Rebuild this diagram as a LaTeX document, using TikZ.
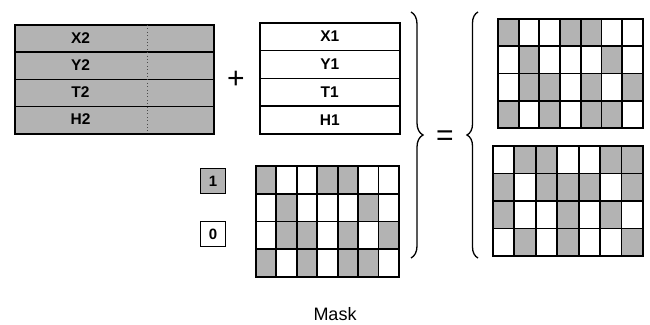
\documentclass[tikz,border=0pt]{standalone}
\usepackage{fontspec}
\setmainfont{Liberation Sans}
\usetikzlibrary{decorations.pathreplacing}
\definecolor{cell1}{RGB}{179,179,179}
\definecolor{cell0}{RGB}{255,255,255}
\newcommand\maskgrid[6]{%
  \foreach \rw [count=\r] in {#6} {
    \foreach \v [count=\c] in \rw {
      \node[gridcell, fill=cell\v, minimum width=#4pt, minimum height=#5pt]
        (#1-\r-\c) at ({#2+(\c-1)*#4},{#3+(\r-1)*#5}) {};
    }
  }%
}
\begin{document}
\begin{tikzpicture}[x=1pt,y=-1pt,
  lbl/.style={font=\bfseries\fontsize{15.5}{15.5}\selectfont, inner sep=0pt},
  rowg/.style={draw, line width=1.5pt, fill=cell1, minimum width=199pt, minimum height=27.25pt, inner sep=0pt, anchor=north west},
  roww/.style={draw, line width=1.5pt, fill=white, minimum width=140pt, minimum height=27.75pt, inner sep=0pt, anchor=north west, font=\bfseries\fontsize{15.5}{15.5}\selectfont},
  bitbox/.style={draw, line width=1.5pt, minimum size=25pt, inner sep=0pt, font=\bfseries\fontsize{15}{15}\selectfont},
  gridcell/.style={draw, line width=1.9pt, inner sep=0pt, anchor=north west},
  gbrace/.style={decorate, decoration={brace, amplitude=#1}, line width=1.3pt},
  sym/.style={font=\fontsize{30}{30}\selectfont, inner sep=0pt},
]
\useasboundingbox (0,0) rectangle (650,324);
% gray table
\foreach \t [count=\i] in {X2,Y2,T2,H2} {
  \node[rowg] (g\i) at (14,{24+(\i-1)*27.25}) {};
  \node[lbl] (gl\i) at (80.5,{24+(\i-0.5)*27.25}) {\t};
}
\coordinate (dt) at (147,25);
\coordinate (db) at (147,132);
\draw[line width=0.6pt, dash pattern=on 0.8pt off 2.6pt, black!70] (dt) -- (db);
% white table
\foreach \t [count=\i] in {X1,Y1,T1,H1} {
  \node[roww] (w\i) at (259,{22+(\i-1)*27.75}) {\t};
}
\node[sym] (plus) at (236,80) {+};
\node[sym] (eq) at (445,138) {=};
% bit boxes
\node[bitbox, fill=cell1] (b1) at (213,181) {1};
\node[bitbox, fill=white] (b0) at (213,234) {0};
% grids
\maskgrid{m}{255}{165}{20.43}{27.75}{{1,0,0,1,1,0,0},{0,1,0,0,0,1,0},{0,1,1,0,1,0,1},{1,0,1,0,1,1,0}}
\maskgrid{a}{497}{18}{20.71}{27.25}{{1,0,0,1,1,0,0},{0,1,0,0,0,1,0},{0,1,1,0,1,0,1},{1,0,1,0,1,1,0}}
\maskgrid{b}{492}{145}{21.43}{27.5}{{0,1,1,0,0,1,1},{1,0,1,1,1,0,1},{1,0,0,1,0,1,0},{0,1,0,1,0,0,1}}
% braces
\coordinate (rbt) at (411,12);
\coordinate (rbb) at (411,258);
\draw[gbrace=12pt] (rbt) -- (rbb);
\coordinate (lbt) at (478,12);
\coordinate (lbb) at (478,258);
\draw[gbrace=11pt] (lbb) -- (lbt);
% caption
\node[font=\fontsize{18}{18}\selectfont] (mask) at (335,314) {Mask};
\end{tikzpicture}
\end{document}
